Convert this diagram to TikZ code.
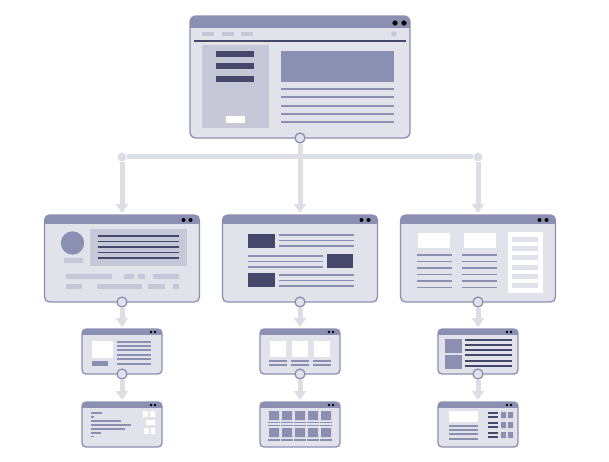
\documentclass[tikz,border=0pt]{standalone}
\usepackage{tikz}
\usetikzlibrary{backgrounds, arrows.meta, positioning}
\definecolor{pane}{HTML}{E1E2EA}
\definecolor{frame}{HTML}{8B90B3}
\definecolor{mist}{HTML}{C6C8D8}
\definecolor{ink}{HTML}{45476B}
\definecolor{wire}{HTML}{DCDEE6}
\tikzset{%
>={Triangle[width=12pt,length=9pt]},
  % Specifications for style of nodes:
            window/.style = {rectangle, draw=frame, fill=pane, line width=1.3pt,
                            outer sep=0pt, inner sep=0pt,
                            path picture={\fill[frame, sharp corners] (path picture bounding box.north west)
                            rectangle ([yshift=-#1]path picture bounding box.north east);}},
            mainwin/.style = {window=12pt, minimum width=220pt, minimum height=122pt, rounded corners=6pt},
            pagewin/.style = {window=9pt, minimum width=155pt, minimum height=87pt, rounded corners=5pt},
            thumbwin/.style = {window=6pt, minimum width=80pt, minimum height=45pt, rounded corners=4pt},
            port/.style = {circle, draw=frame, fill=pane, line width=1.3pt, minimum size=10pt, inner sep=0pt},
            joint/.style = {circle, fill=wire, minimum size=9pt, inner sep=0pt},
  % Specifications for style of lines:
            link/.style = {draw=wire, line width=5pt},
            rule/.style = {draw=frame, line width=1.5pt},
            inkrule/.style = {draw=ink, line width=1.5pt},
            knob/.style = {fill=black}
}
\begin{document}
\begin{tikzpicture}[x=1pt, y=-1pt]
                \useasboundingbox (0,0) rectangle (609,462);

                % windows
                \node[mainwin] (w0) at (300,77) {};
                \node[pagewin, below=77pt of w0] (m2) {};
                \node[pagewin, left=23pt of m2] (m1) {};
                \node[pagewin, right=23pt of m2] (m3) {};
                \node[thumbwin, below=27pt of m1] (s1) {};
                \node[thumbwin, below=27pt of m2] (s2) {};
                \node[thumbwin, below=27pt of m3] (s3) {};
                \node[thumbwin, below=28pt of s1] (t1) {};
                \node[thumbwin, below=28pt of s2] (t2) {};
                \node[thumbwin, below=28pt of s3] (t3) {};

                % ports and joints
                \node[port] (p0) at (w0.south) {};
                \node[port] (p1) at (m1.south) {};
                \node[port] (p2) at (m2.south) {};
                \node[port] (p3) at (m3.south) {};
                \node[port] (q1) at (s1.south) {};
                \node[port] (q2) at (s2.south) {};
                \node[port] (q3) at (s3.south) {};
                \coordinate[below=19pt of w0] (hub);
                \node[joint] (jl) at (m1 |- hub) {};
                \node[joint] (jr) at (m3 |- hub) {};

                \begin{scope}[on background layer]
                \draw[link] (p0) -- (hub);
                \draw[link] (jl) -- (jr);
                \draw[link, ->, shorten >=2pt] (jl) -- (m1);
                \draw[link, ->, shorten >=2pt] (hub) -- (m2);
                \draw[link, ->, shorten >=2pt] (jr) -- (m3);
                \foreach \a/\b in {p1/s1, p2/s2, p3/s3, q1/t1, q2/t2, q3/t3}
                    \draw[link, ->, shorten >=2pt] (\a) -- (\b);
                \end{scope}

                % window buttons
                \fill[knob] ([shift={(-15,7)}]w0.north east) circle (2.6pt)
                            ([shift={(-6,7)}]w0.north east) circle (2.6pt);
                \foreach \w in {m1, m2, m3}
                    \fill[knob] ([shift={(-16,5)}]\w.north east) circle (2pt)
                                ([shift={(-9,5)}]\w.north east) circle (2pt);
                \foreach \w in {s1, s2, s3, t1, t2, t3}
                    \fill[knob] ([shift={(-11,3)}]\w.north east) circle (1.4pt)
                                ([shift={(-7,3)}]\w.north east) circle (1.4pt);

                % home page
                \begin{scope}[shift={(w0.north west)}]
                \foreach \x in {12,32,51} \fill[mist] (\x,16.5) rectangle ++(11.5,3.5);
                \fill[mist] (204,18) circle (2.8pt);
                \draw[inkrule, line width=1.2pt] (4,25) -- (216,25);
                \fill[mist] (12,29) rectangle (79,112);
                \foreach \y in {35,47,60} \fill[ink] (26,\y) rectangle ++(38,6);
                \fill[white] (36,100) rectangle (55,107);
                \fill[frame] (91,35) rectangle (204,66);
                \foreach \y in {73,81,90,98,106} \draw[rule] (91,\y) -- (204,\y);
                \end{scope}

                % profile page
                \begin{scope}[shift={(m1.north west)}]
                \fill[frame] (28,28) circle (11.7pt);
                \fill[mist] (19,43) rectangle (38,48);
                \fill[mist] (45,14) rectangle (142,51);
                \foreach \y in {21,26.5,32,37.5,43} \draw[inkrule] (53,\y) -- (134,\y);
                \foreach \a/\b in {21/67,79/89,93/100,108/134} \fill[mist] (\a,59) rectangle (\b,64);
                \foreach \a/\b in {21/37,52/97,103/120,128/134} \fill[mist] (\a,69) rectangle (\b,74);
                \end{scope}

                % article page
                \begin{scope}[shift={(m2.north west)}]
                \foreach \y in {19,58} \fill[ink] (25,\y) rectangle ++(27,14);
                \foreach \y in {20,25.5,31,60,65.5,71} \draw[rule] (56,\y) -- (131,\y);
                \fill[ink] (104,39) rectangle (130,53);
                \foreach \y in {41,46.5,52} \draw[rule] (25,\y) -- (100,\y);
                \end{scope}

                % columns page
                \begin{scope}[shift={(m3.north west)}]
                \foreach \x in {17,63} \fill[white] (\x,18) rectangle ++(32,15);
                \foreach \y in {40,46.5,53,59.5,66,72.5} \draw[rule] (16,\y) -- (51,\y) (61,\y) -- (96,\y);
                \fill[white] (107,17) rectangle (142,78);
                \foreach \y in {22,31.2,40.4,49.6,58.8,68} \fill[pane] (111,\y) rectangle ++(26,5);
                \end{scope}

                % sub pages
                \begin{scope}[shift={(s1.north west)}]
                \fill[white] (10,12) rectangle (31,29);
                \fill[frame] (10,32) rectangle (26,37);
                \foreach \y in {13,17,21,26,30,35} \draw[rule, line width=1.1pt] (35,\y) -- (69,\y);
                \end{scope}

                \begin{scope}[shift={(s2.north west)}]
                \foreach \x in {10,32,54} {
                    \fill[white] (\x,12) rectangle ++(16,16);
                    \draw[rule, line width=1.1pt] (\x-1,32) -- ++(18,0) (\x-1,36) -- ++(18,0);
                }
                \end{scope}

                \begin{scope}[shift={(s3.north west)}]
                \foreach \y in {10,26} \fill[frame] (7,\y) rectangle ++(17,14);
                \foreach \y in {11,16,21,26,32,37} \draw[inkrule, line width=1.2pt] (27,\y) -- (74,\y);
                \end{scope}

                \begin{scope}[shift={(t1.north west)}]
                \foreach \l/\y in {11/11,3/15,30/19,40/23,34/27,10/31,3/34.5}
                    \draw[rule, line width=1.1pt] (9,\y) -- ++(\l,0);
                \fill[white] (61,9) rectangle (66,15) (68,9) rectangle (73,15) (64,18) rectangle (73,23)
                             (62,26) rectangle (67,32) (69,26) rectangle (73,32);
                \end{scope}

                \begin{scope}[shift={(t2.north west)}]
                \foreach \i in {0,...,4} {
                    \fill[frame] (9+13*\i,9) rectangle ++(10,9) (9+13*\i,26) rectangle ++(10,9);
                    \draw[rule, line width=1.1pt] (8+13*\i,20.5) -- ++(12,0) (8+13*\i,23.5) -- ++(12,0)
                                                  (8+13*\i,38) -- ++(12,0);
                }
                \end{scope}

                \begin{scope}[shift={(t3.north west)}]
                \fill[white] (11,9) rectangle (40,20);
                \foreach \y in {24,28,32,37} \draw[rule, line width=1.1pt] (11,\y) -- (40,\y);
                \foreach \y in {10,20,30} {
                    \draw[inkrule, line width=1.2pt] (50,\y+1) -- ++(10,0) (50,\y+5) -- ++(10,0);
                    \fill[frame] (63,\y) rectangle ++(5,6) (70,\y) rectangle ++(5,6);
                }
                \end{scope}

            \end{tikzpicture}
\end{document}
